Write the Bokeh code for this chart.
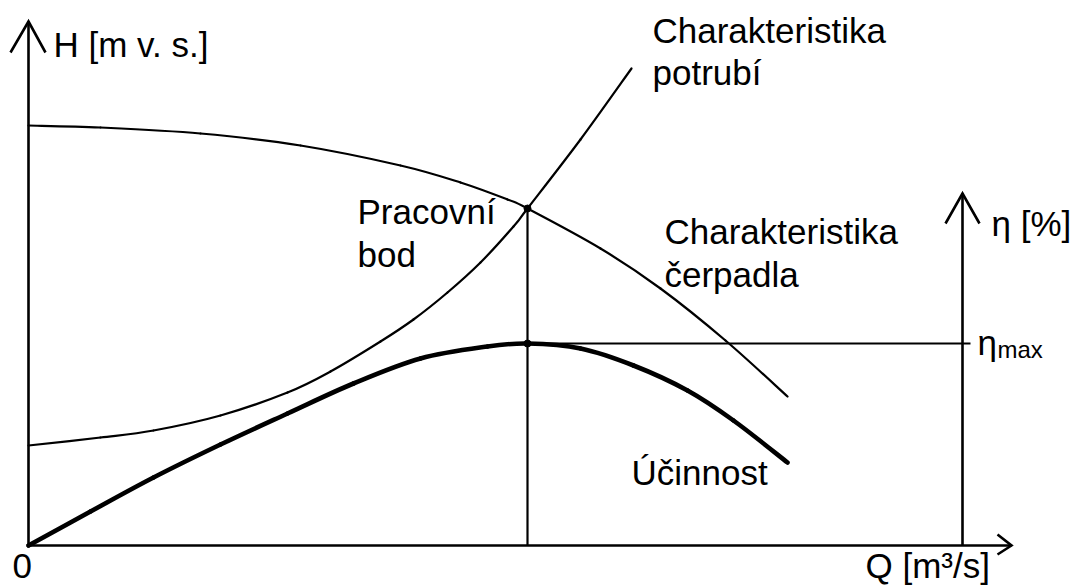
from bokeh.plotting import figure
from bokeh.models import Range1d
from bokeh.embed import file_html
from bokeh.resources import INLINE
from bokeh.core.properties import value

# Pump characteristic H(Q) (drawing units)
pump_q = [0, 7.2, 17.2, 27.2, 37.2, 43.2, 47.9, 49.9, 57.2, 63.2, 69.7, 75.9]
pump_h = [42.0, 41.8, 41.2, 40.0, 38.0, 36.3, 34.6, 33.7, 29.7, 25.7, 20.5, 14.9]

# Pipeline characteristic H(Q)
pipe_q = [0, 7.2, 12.5, 19.2, 25.9, 30.2, 35.2, 38.5, 41.9, 45.2, 48.5, 49.9, 55.2, 60.3]
pipe_h = [10.0, 10.8, 11.5, 13.0, 15.3, 17.4, 20.4, 22.6, 25.3, 28.3, 31.9, 33.7, 40.6, 47.7]

# Efficiency curve eta(Q)
eff_q = [0, 6.2, 12.5, 19.2, 25.9, 32.5, 39.2, 45.9, 49.9, 55.2, 60.5, 65.9, 70.5, 75.9]
eff_h = [0, 3.4, 6.8, 10.1, 13.2, 16.2, 18.7, 19.9, 20.2, 19.7, 18.0, 15.5, 12.5, 8.3]

# Operating point and best-efficiency point
work_q = 49.9
work_h = 33.7
eta_max = 20.2

# Axis extents
q_axis_end = 98.3
h_axis_end = 52.4
eta_axis_q = 93.4
eta_axis_end = 35.2

FONT = value("Liberation Sans")
INK = "#000000"

p = figure(width=1078, height=587, output_backend="svg", toolbar_location=None,
           x_range=Range1d(-2.8, 105.0), y_range=Range1d(-4.2, 54.5),
           x_axis_location=None, y_axis_location=None, min_border=0,
           outline_line_color=None, background_fill_color="white",
           border_fill_color="white")
p.grid.visible = False


def smooth_curve(fig, xs, ys, **kw):
    """Draw a smooth curve through the given points as cubic Bezier pieces."""
    n = len(xs)
    X = [xs[0]] + list(xs) + [xs[-1]]
    Y = [ys[0]] + list(ys) + [ys[-1]]
    x0, y0, x1, y1, cx0, cy0, cx1, cy1 = ([] for _ in range(8))
    for i in range(1, n):
        x0.append(X[i]); y0.append(Y[i])
        x1.append(X[i + 1]); y1.append(Y[i + 1])
        cx0.append(X[i] + (X[i + 1] - X[i - 1]) / 6.0)
        cy0.append(Y[i] + (Y[i + 1] - Y[i - 1]) / 6.0)
        cx1.append(X[i + 1] - (X[i + 2] - X[i]) / 6.0)
        cy1.append(Y[i + 1] - (Y[i + 2] - Y[i]) / 6.0)
    fig.bezier(x0=x0, y0=y0, x1=x1, y1=y1, cx0=cx0, cy0=cy0, cx1=cx1, cy1=cy1,
               line_cap="round", **kw)


AX_W = 2.6

# Main axes
p.segment(x0=[0, -0.2], y0=[-0.2, 0], x1=[0, q_axis_end], y1=[h_axis_end, 0],
          line_color=INK, line_width=AX_W)
# Arrow heads on H axis and Q axis
p.line([-1.8, 0, 1.7], [h_axis_end - 3.1, h_axis_end, h_axis_end - 3.1],
       line_color=INK, line_width=AX_W, line_join="miter")
p.line([q_axis_end - 1.4, q_axis_end, q_axis_end - 1.4], [1.1, 0, -0.9],
       line_color=INK, line_width=AX_W, line_join="miter")

# Efficiency axis on the right
p.segment(x0=[eta_axis_q], y0=[0], x1=[eta_axis_q], y1=[eta_axis_end],
          line_color=INK, line_width=AX_W)
p.line([eta_axis_q - 1.7, eta_axis_q, eta_axis_q + 1.7],
       [eta_axis_end - 3.0, eta_axis_end, eta_axis_end - 3.0],
       line_color=INK, line_width=AX_W, line_join="miter")

# Helper lines from operating point / max efficiency
p.segment(x0=[work_q], y0=[0], x1=[work_q], y1=[work_h], line_color=INK, line_width=2.2)
p.segment(x0=[work_q], y0=[eta_max], x1=[eta_axis_q + 0.8], y1=[eta_max],
          line_color=INK, line_width=2.2)

# Curves
smooth_curve(p, pump_q, pump_h, line_color=INK, line_width=2.2)
smooth_curve(p, pipe_q, pipe_h, line_color=INK, line_width=2.2)
smooth_curve(p, eff_q, eff_h, line_color=INK, line_width=4.6)

# Marked points
p.scatter([work_q, work_q], [work_h, eta_max], size=7, color=INK)

# Labels (x, baseline y)
labels = [
    ("H [m v. s.]", 2.5, 50.1, "35px"),
    ("Charakteristika", 62.4, 51.5, "35px"),
    ("potrubí", 62.4, 47.3, "35px"),
    ("Pracovní", 32.9, 33.4, "35px"),
    ("bod", 32.9, 29.1, "35px"),
    ("Charakteristika", 63.6, 31.4, "35px"),
    ("čerpadla", 63.6, 27.1, "35px"),
    ("η [%]", 96.3, 32.2, "35px"),
    ("η", 94.9, 20.3, "35px"),
    ("max", 96.9, 19.6, "24px"),
    ("Účinnost", 60.3, 7.3, "35px"),
    ("0", -1.6, -2.0, "35px"),
    ("Q [m³/s]", 83.7, -2.0, "35px"),
]
for txt, x, y, size in labels:
    p.text(x=[x], y=[y], text=[txt], text_font=FONT, text_font_size=size,
           text_color=INK, text_align="left", text_baseline="alphabetic")

open("out.html", "w").write(file_html(p, INLINE))
